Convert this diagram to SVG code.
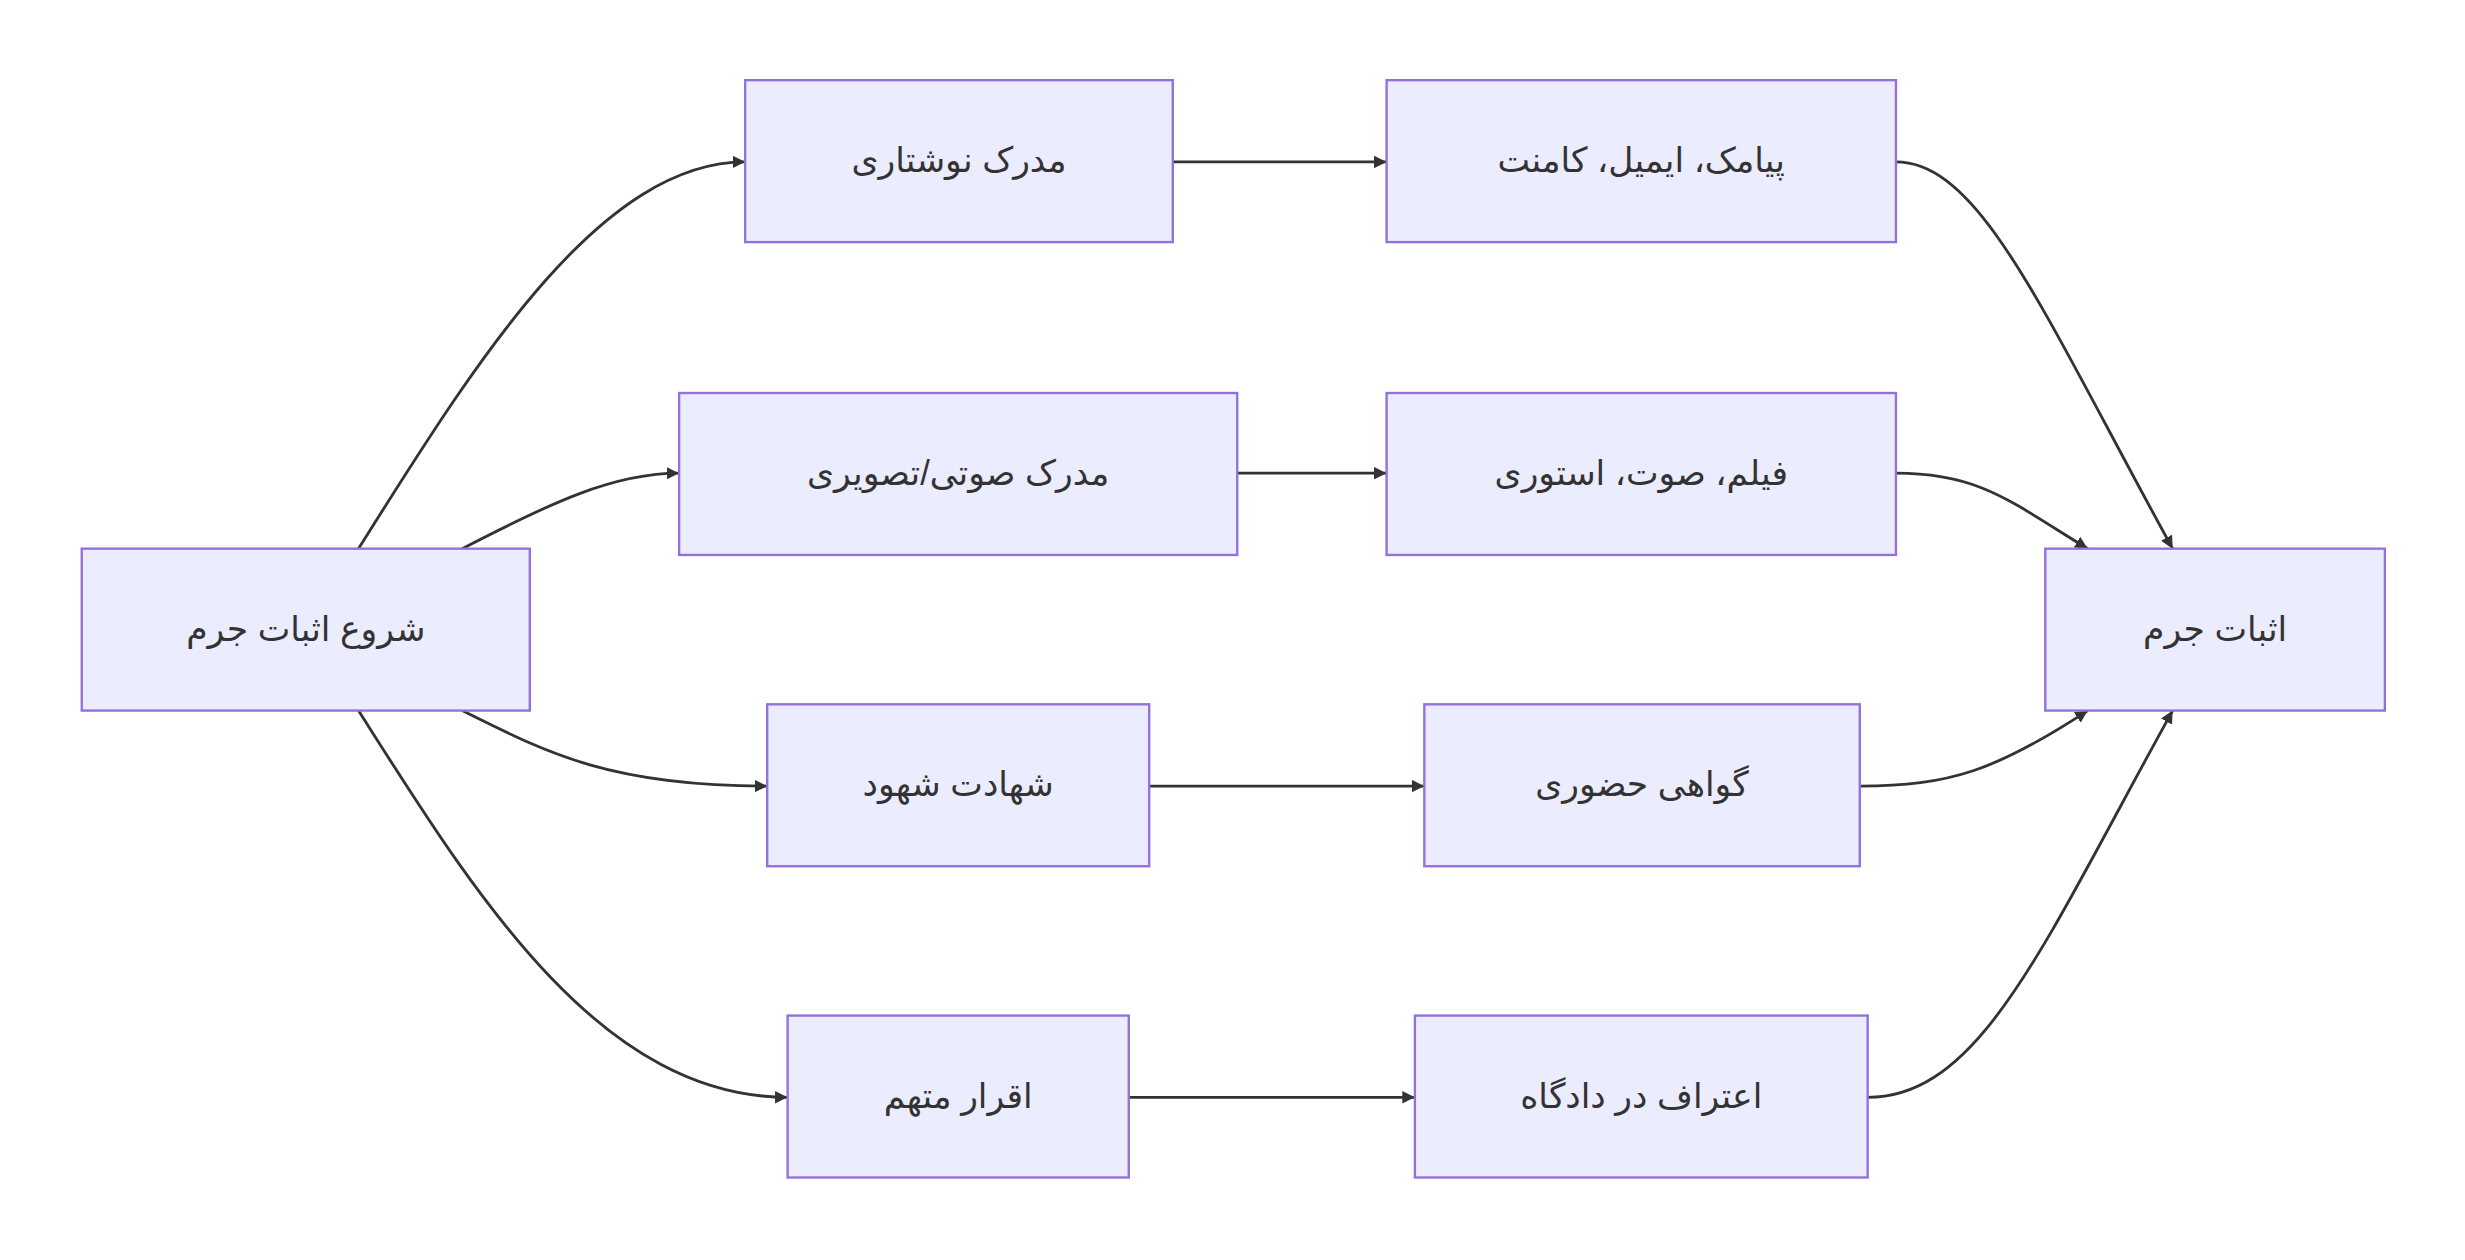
<svg xmlns="http://www.w3.org/2000/svg" width="2465" height="1260" viewBox="0 0 2465 1260">
<style>
.n rect{fill:#ECECFF;stroke:#9370DB;stroke-width:1.5}
.n text{font-family:"Liberation Sans","DejaVu Sans",sans-serif;font-size:22px;fill:#333;text-anchor:middle;dominant-baseline:central}
.e path{fill:none;stroke:#333;stroke-width:1.8}
</style>
<defs><marker id="ar" viewBox="0 0 10 10" refX="10" refY="5" markerWidth="8" markerHeight="8" markerUnits="userSpaceOnUse" orient="auto"><path d="M0,0L10,5L0,10z" fill="#333"/></marker></defs>
<rect width="2465" height="1260" fill="#fff"/>
<g transform="scale(1.5721)">
<g class="e" marker-end="url(#ar)">
<path d="M228,349 C300,235 380,103 474,103" marker-end="url(#ar)"/>
<path d="M294,349 C350,320 390,301 432,301" marker-end="url(#ar)"/>
<path d="M294,452 C350,480 390,500 488,500" marker-end="url(#ar)"/>
<path d="M228,452 C300,565 380,698 501,698" marker-end="url(#ar)"/>
<path d="M746,103 L882,103" marker-end="url(#ar)"/>
<path d="M787,301 L882,301" marker-end="url(#ar)"/>
<path d="M731,500 L906,500" marker-end="url(#ar)"/>
<path d="M718,698 L900,698" marker-end="url(#ar)"/>
<path d="M1206,103 C1260,103 1300,200 1382,349" marker-end="url(#ar)"/>
<path d="M1206,301 C1260,301 1280,320 1328,349" marker-end="url(#ar)"/>
<path d="M1183,500 C1240,500 1270,490 1328,452" marker-end="url(#ar)"/>
<path d="M1188,698 C1260,698 1300,600 1382,452" marker-end="url(#ar)"/>
</g>
<g id="start" class="n"><rect x="52" y="349" width="285" height="103"/><text x="194.5" y="400">شروع اثبات جرم</text></g>
<g id="a1" class="n"><rect x="474" y="51" width="272" height="103"/><text x="610" y="102">مدرک نوشتاری</text></g>
<g id="a2" class="n"><rect x="432" y="250" width="355" height="103"/><text x="609.5" y="301">مدرک صوتی/تصویری</text></g>
<g id="a3" class="n"><rect x="488" y="448" width="243" height="103"/><text x="609.5" y="499">شهادت شهود</text></g>
<g id="a4" class="n"><rect x="501" y="646" width="217" height="103"/><text x="609.5" y="697">اقرار متهم</text></g>
<g id="b1" class="n"><rect x="882" y="51" width="324" height="103"/><text x="1044" y="102">پیامک، ایمیل، کامنت</text></g>
<g id="b2" class="n"><rect x="882" y="250" width="324" height="103"/><text x="1044" y="301">فیلم، صوت، استوری</text></g>
<g id="b3" class="n"><rect x="906" y="448" width="277" height="103"/><text x="1044.5" y="499">گواهی حضوری</text></g>
<g id="b4" class="n"><rect x="900" y="646" width="288" height="103"/><text x="1044" y="697">اعتراف در دادگاه</text></g>
<g id="end" class="n"><rect x="1301" y="349" width="216" height="103"/><text x="1409" y="400">اثبات جرم</text></g>
</g>
</svg>
